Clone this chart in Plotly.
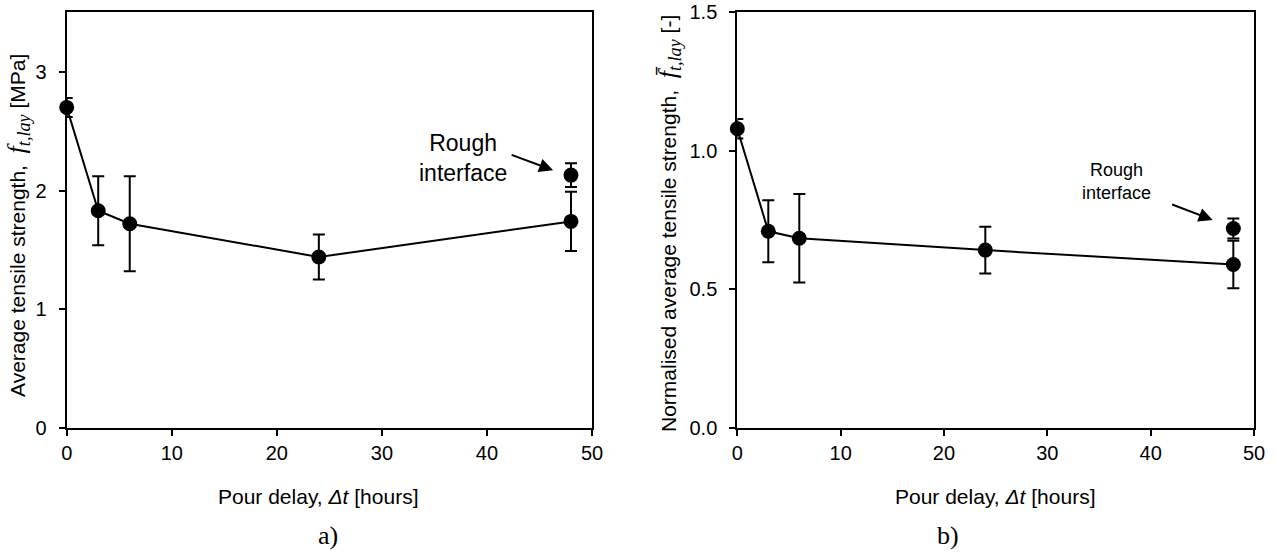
import plotly.graph_objects as go

# ---------------- data ----------------
delay = [0, 3, 6, 24, 48]
strength = [2.70, 1.83, 1.72, 1.44, 1.74]
strength_err = [0.08, 0.29, 0.40, 0.19, 0.25]
rough_delay = [48]
rough_strength = [2.13]
rough_strength_err = [0.10]

norm_strength = [1.08, 0.71, 0.685, 0.642, 0.59]
norm_err = [0.035, 0.112, 0.16, 0.084, 0.086]
rough_norm = [0.72]
rough_norm_err = [0.036]

x_ticks = [0, 10, 20, 30, 40, 50]
y1_ticks = [0, 1, 2, 3]
y2_ticks = [0.0, 0.5, 1.0, 1.5]

W, H = 1276, 552
FONT = "Liberation Sans, Arial, sans-serif"
SERIF = "Liberation Serif, Times New Roman, serif"

def px(x):
    return x / W

def py(y):
    return 1 - y / H

fig = go.Figure()

err_style = dict(type="data", color="black", thickness=2, width=6, visible=True)
mk = dict(size=15, color="black", symbol="circle")

fig.add_trace(go.Scatter(x=delay, y=strength, mode="lines+markers",
                         line=dict(color="black", width=2), marker=mk,
                         error_y=dict(array=strength_err, **err_style),
                         xaxis="x", yaxis="y", cliponaxis=False, showlegend=False))
fig.add_trace(go.Scatter(x=rough_delay, y=rough_strength, mode="markers", marker=mk,
                         error_y=dict(array=rough_strength_err, **err_style),
                         xaxis="x", yaxis="y", cliponaxis=False, showlegend=False))
fig.add_trace(go.Scatter(x=delay, y=norm_strength, mode="lines+markers",
                         line=dict(color="black", width=2), marker=mk,
                         error_y=dict(array=norm_err, **err_style),
                         xaxis="x2", yaxis="y2", cliponaxis=False, showlegend=False))
fig.add_trace(go.Scatter(x=rough_delay, y=rough_norm, mode="markers", marker=mk,
                         error_y=dict(array=rough_norm_err, **err_style),
                         xaxis="x2", yaxis="y2", cliponaxis=False, showlegend=False))

ax_common = dict(showline=True, linecolor="black", linewidth=2, mirror=True,
                 ticks="outside", ticklen=6, tickwidth=2, tickcolor="black",
                 showgrid=False, zeroline=False, automargin=False,
                 tickfont=dict(family=FONT, size=20, color="black"))

ydom = [py(428), py(12.4)]
fig.update_layout(
    template="none",
    width=W, height=H, autosize=False,
    margin=dict(l=0, r=0, t=0, b=0, pad=0, autoexpand=False),
    paper_bgcolor="white", plot_bgcolor="white",
    font=dict(family=FONT, color="black"),
    xaxis=dict(domain=[px(66.7), px(592)], range=[0, 50], tickvals=x_ticks,
               anchor="y", **ax_common),
    yaxis=dict(domain=ydom, range=[0, 3.5], tickvals=y1_ticks,
               anchor="x", ticklabelstandoff=8, **ax_common),
    xaxis2=dict(domain=[px(737.3), px(1254)], range=[0, 50], tickvals=x_ticks,
                anchor="y2", **ax_common),
    yaxis2=dict(domain=ydom, range=[0, 1.5], tickvals=y2_ticks, tickformat=".1f",
                anchor="x2", ticklabelstandoff=8, **ax_common),
)

math_f = ('<span style="font-family:%s;font-size:26px"><i>%s</i>'
          '<sub><i>t,lay</i></sub></span>')

ann = []
tf = dict(family=FONT, size=21, color="black")
# x-axis titles
ann.append(dict(text="Pour delay, <i>Δt</i> [hours]", x=px(318), y=py(496),
                xref="paper", yref="paper", showarrow=False, font=tf,
                xanchor="center", yanchor="middle"))
ann.append(dict(text="Pour delay, <i>Δt</i> [hours]", x=px(995), y=py(496),
                xref="paper", yref="paper", showarrow=False, font=tf,
                xanchor="center", yanchor="middle"))
# y-axis titles
yt = dict(family=FONT, size=21, color="black")
ann.append(dict(text="Average tensile strength,  " + math_f % (SERIF, "f") + " [MPa]",
                x=px(18), y=py(226), xref="paper", yref="paper", showarrow=False,
                textangle=-90, font=yt, xanchor="center", yanchor="middle"))
ann.append(dict(text="Normalised average tensile strength,  " + math_f % (SERIF, "f\u0304") + " [-]",
                x=px(669), y=py(224), xref="paper", yref="paper", showarrow=False,
                textangle=-90, font=yt, xanchor="center", yanchor="middle"))
# panel labels
sf = dict(family=SERIF, size=26, color="black")
ann.append(dict(text="a)", x=px(328), y=py(535), xref="paper", yref="paper",
                showarrow=False, font=sf, xanchor="center", yanchor="middle"))
ann.append(dict(text="b)", x=px(948), y=py(535), xref="paper", yref="paper",
                showarrow=False, font=sf, xanchor="center", yanchor="middle"))
# Rough interface labels
ann.append(dict(text="Rough<br>interface", x=37.7, y=2.277, xref="x", yref="y",
                showarrow=False, font=dict(family=FONT, size=23, color="black"),
                xanchor="center", yanchor="middle"))
ann.append(dict(text="", x=46.3, y=2.17, xref="x", yref="y", showarrow=True,
                ax=-43, ay=-16, arrowhead=2, arrowsize=1.4, arrowwidth=2,
                arrowcolor="black"))
ann.append(dict(text="Rough<br>interface", x=36.7, y=0.89, xref="x2", yref="y2",
                showarrow=False, font=dict(family=FONT, size=18, color="black"),
                xanchor="center", yanchor="middle"))
ann.append(dict(text="", x=46.0, y=0.751, xref="x2", yref="y2", showarrow=True,
                ax=-42, ay=-16, arrowhead=2, arrowsize=1.4, arrowwidth=2,
                arrowcolor="black"))
fig.update_layout(annotations=ann)

fig.write_html("out.html")
